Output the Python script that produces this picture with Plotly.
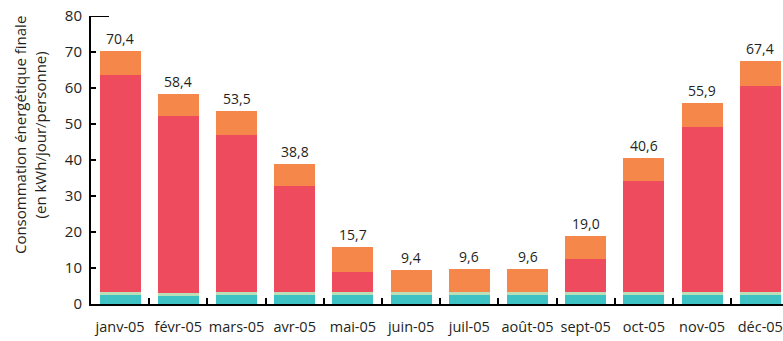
import plotly.graph_objects as go

months = ["janv-05", "févr-05", "mars-05", "avr-05", "mai-05", "juin-05",
          "juil-05", "août-05", "sept-05", "oct-05", "nov-05", "déc-05"]
totals = [70.4, 58.4, 53.5, 38.8, 15.7, 9.4, 9.6, 9.6, 19.0, 40.6, 55.9, 67.4]
teal = [2.4, 2.3, 2.5, 2.5, 2.4, 2.4, 2.4, 2.4, 2.4, 2.4, 2.4, 2.4]
pale = [0.9, 0.7, 0.9, 0.9, 0.8, 0.8, 0.8, 0.8, 0.8, 0.8, 0.8, 0.8]
red = [60.3, 49.2, 43.5, 29.4, 5.7, 0.0, 0.0, 0.0, 9.3, 31.0, 46.1, 57.4]
# top segment fills up to the stated monthly total
orange = [round(t - a - b - c, 2) for t, a, b, c in zip(totals, teal, pale, red)]

labels = [f"{v:.1f}".replace(".", ",") for v in totals]

FONT = "Open Sans"
fig = go.Figure()
for vals, col in [(teal, "#3fc2c4"), (pale, "#b9dfb8"), (red, "#ef4b5f"), (orange, "#f5874a")]:
    fig.add_trace(go.Bar(x=months, y=vals, marker=dict(color=col, line=dict(width=0)),
                         hoverinfo="skip"))

for m, t, lab in zip(months, totals, labels):
    fig.add_annotation(x=m, y=t, text=lab, showarrow=False, yanchor="bottom", yshift=1,
                       font=dict(family=FONT, size=14, color="#231f20"))

fig.add_annotation(xref="paper", yref="paper", x=-0.088, y=0.587, xanchor="center", yanchor="middle",
                   text="Consommation énergétique finale<br>(en kWh/jour/personne)",
                   textangle=-90, showarrow=False,
                   font=dict(family=FONT, size=15, color="#231f20"))

# longer top tick on the value axis
fig.add_shape(type="line", xref="paper", yref="y", x0=0, x1=0.026, y0=80, y1=80,
              line=dict(color="black", width=2))

fig.update_layout(
    width=783, height=341, barmode="stack", bargap=0.295, showlegend=False,
    margin=dict(l=91, r=0, t=16, b=37),
    paper_bgcolor="white", plot_bgcolor="white",
    font=dict(family=FONT, size=14, color="#231f20"),
    xaxis=dict(range=[-0.5, 11.39], showline=True, linecolor="black", linewidth=2,
               ticks="inside", tickson="boundaries", ticklen=6, tickwidth=1.5, tickcolor="black",
               tickangle=0, automargin=False, ticklabelstandoff=9,
               tickfont=dict(family=FONT, size=14.5, color="#231f20"), showgrid=False),
    yaxis=dict(range=[0, 80], dtick=10, showline=True, linecolor="black", linewidth=2,
               ticks="inside", ticklen=5, tickwidth=1.5, tickcolor="black",
               automargin=False, ticklabelstandoff=4,
               tickfont=dict(family=FONT, size=15, color="#231f20"), showgrid=False,
               zeroline=False),
)

fig.write_html("out.html")
